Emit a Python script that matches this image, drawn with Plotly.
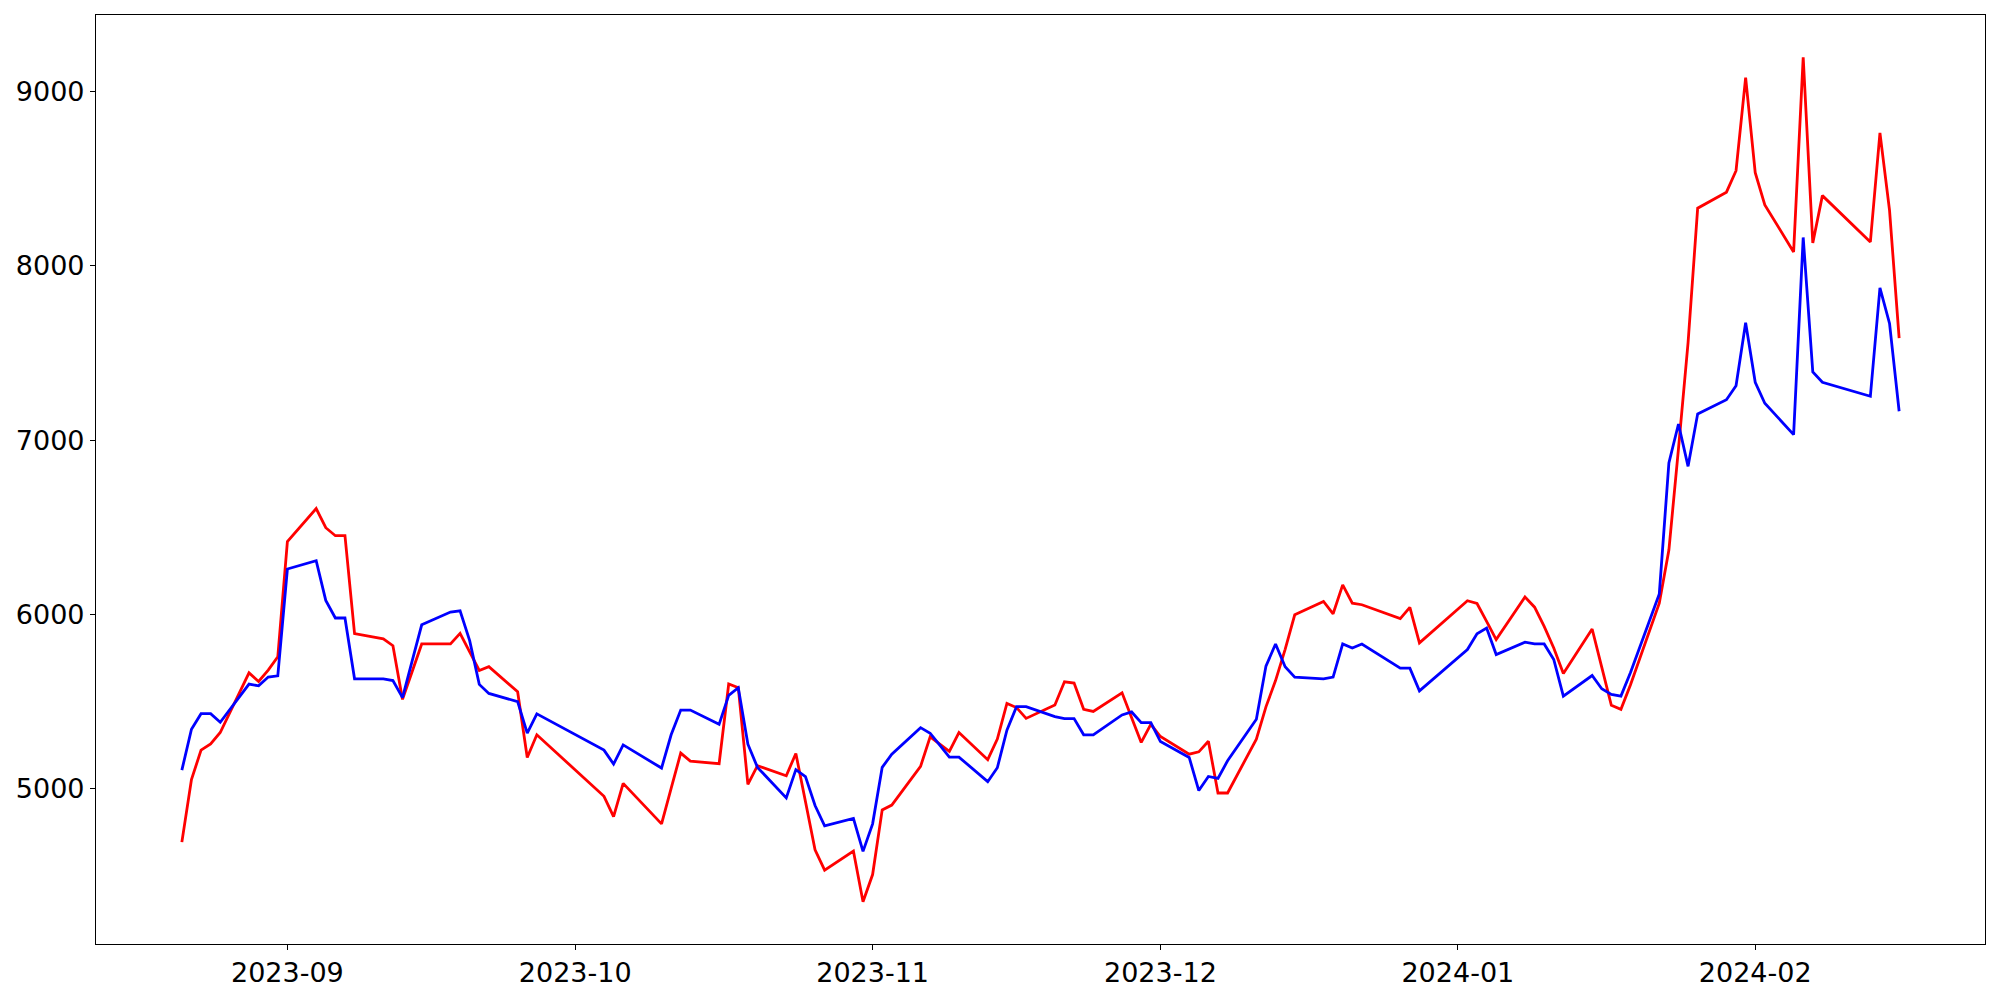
import pandas as pd
import plotly.graph_objects as go

# KRX trading calendar (holidays inside the range)
start_date = "2023-08-21"
end_date = "2024-02-16"
holidays = ["2023-09-28", "2023-09-29", "2023-10-02", "2023-10-03", "2023-10-09",
            "2023-12-25", "2023-12-29", "2024-01-01", "2024-02-09", "2024-02-12"]
dates = [d for d in pd.bdate_range(start_date, end_date) if d.strftime("%Y-%m-%d") not in holidays]

red_values = [
    # Aug
    4694, 5053, 5222, 5258, 5323, 5665, 5616, 5681, 5757,
    # Sep
    6418, 6608, 6498, 6452, 6452, 5890, 5860, 5821, 5513, 5672, 5831, 5831, 5892, 5785, 5679, 5701, 5557, 5180, 5310,
    # Oct
    4957, 4841, 5031, 4799, 5003, 5205, 5159, 5144, 5601, 5580, 5026, 5133, 5075, 5203, 4927, 4650, 4533, 4643, 4352,
    # Nov
    4508, 4879, 4907, 5129, 5298, 5256, 5215, 5323, 5167, 5285, 5490, 5466, 5404, 5481, 5614, 5607, 5456, 5444, 5551, 5408, 5266, 5370,
    # Dec
    5300, 5199, 5212, 5273, 4976, 4976, 5285, 5470, 5621, 5800, 5998, 6075, 6004, 6170, 6065, 6056, 5976, 6041, 5837,
    # Jan
    6079, 6063, 5961, 5856, 6100, 6042, 5932, 5808, 5662, 5917, 5698, 5479, 5456, 5597, 6065, 6370, 6951, 7560, 8331, 8423, 8546, 9080,
    # Feb
    8535, 8350, 8080, 9197, 8131, 8403, 8137, 8763, 8318, 7585,
]

blue_values = [
    # Aug
    5107, 5342, 5431, 5431, 5382, 5601, 5591, 5641, 5648,
    # Sep
    6261, 6309, 6081, 5980, 5980, 5631, 5631, 5621, 5523, 5732, 5941, 6014, 6021, 5850, 5599, 5547, 5500, 5319, 5430,
    # Oct
    5222, 5142, 5252, 5119, 5310, 5452, 5452, 5370, 5536, 5580, 5256, 5123, 4948, 5110, 5070, 4904, 4788, 4830, 4641,
    # Nov
    4799, 5123, 5199, 5351, 5319, 5250, 5182, 5182, 5041, 5121, 5336, 5471, 5471, 5414, 5403, 5403, 5310, 5310, 5424, 5441, 5380, 5380,
    # Dec
    5271, 5180, 4990, 5071, 5060, 5161, 5399, 5704, 5831, 5700, 5641, 5631, 5641, 5831, 5808, 5831, 5692, 5692, 5562,
    # Jan
    5799, 5890, 5922, 5770, 5841, 5831, 5831, 5742, 5532, 5650, 5574, 5542, 5532, 5667, 6118, 6870, 7093, 6850, 7151, 7232, 7312, 7674,
    # Feb
    7332, 7212, 7032, 8163, 7392, 7332, 7252, 7874, 7670, 7166,
]

x_tick_values = ["2023-09-01", "2023-10-01", "2023-11-01", "2023-12-01", "2024-01-01", "2024-02-01"]
x_tick_labels = ["2023-09", "2023-10", "2023-11", "2023-12", "2024-01", "2024-02"]
y_tick_values = [5000, 6000, 7000, 8000, 9000]

assert len(dates) == len(red_values) == len(blue_values)

# matplotlib-like 5% autoscale margins
t0, t1 = dates[0], dates[-1]
span = t1 - t0
x_range = [t0 - span * 0.05, t1 + span * 0.05]
all_vals = red_values + blue_values
vmin, vmax = min(all_vals), max(all_vals)
y_range = [vmin - 0.05 * (vmax - vmin), vmax + 0.05 * (vmax - vmin)]

fig = go.Figure()
fig.add_trace(go.Scatter(x=dates, y=red_values, mode="lines",
                         line=dict(color="red", width=2.8), showlegend=False))
fig.add_trace(go.Scatter(x=dates, y=blue_values, mode="lines",
                         line=dict(color="blue", width=2.8), showlegend=False))

axis_common = dict(showgrid=False, zeroline=False, showline=True, mirror=True,
                   linecolor="black", linewidth=1.1, ticks="outside", ticklen=5,
                   tickwidth=1.1, tickcolor="black",
                   tickfont=dict(family="DejaVu Sans", size=27, color="black"))

fig.update_layout(
    width=2000, height=1000,
    margin=dict(l=96, r=15, t=15, b=54),
    paper_bgcolor="white", plot_bgcolor="white",
    xaxis=dict(type="date", range=x_range, tickmode="array",
               tickvals=x_tick_values, ticktext=x_tick_labels, **axis_common),
    yaxis=dict(range=y_range, tickmode="array", tickvals=y_tick_values,
               ticktext=[str(v) for v in y_tick_values], **axis_common),
)

fig.write_html("out.html", config={"responsive": False, "displayModeBar": False},
               post_script="document.body.style.margin='0';")
